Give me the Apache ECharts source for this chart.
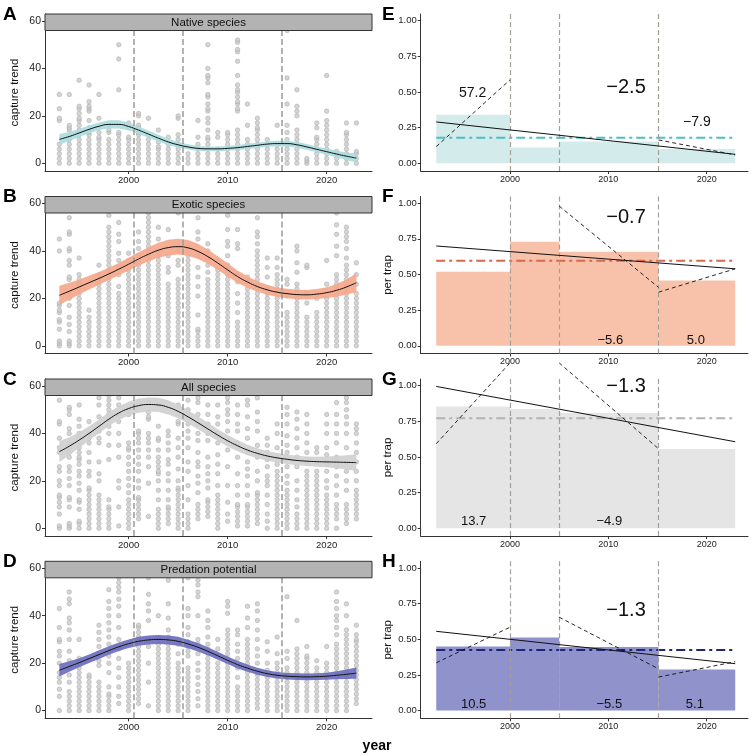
<!DOCTYPE html>
<html>
<head>
<meta charset="utf-8">
<script src="https://cdn.jsdelivr.net/npm/echarts@6/dist/echarts.min.js"></script>
<style>
html, body { margin: 0; padding: 0; background: #fff; }
#chart { width: 752px; height: 756px; }
</style>
</head>
<body>
<div id="chart"></div>
<script>
// sampling years (one column of points per year)
var years = [1993,1994,1995,1996,1997,1998,1999,2000,2001,2002,2003,2004,2005,2006,2007,2008,
	2009,2010,2011,2012,2013,2014,2015,2016,2017,2018,2019,2020,2021,2022,2023];

// capture values per year
var nativePts = [
	[0,2,4,6,8,18,19,23,29],
	[0,2,4,6,8,10,12,14,15,16,29],
	[0,2,4,6,8,10,12,14,16,18,19,21,23,24,35],
	[0,2,4,6,8,10,12,13,15,18,22,23,24,26,33],
	[0,2,4,6,8,10,11,13,19,29],
	[0,2,4,6,8,10,13,14,16],
	[0,2,4,6,8,10,12,13,31,44,50],
	[0,2,4,6,8,10,11,15,17],
	[0,2,4,6,8,10,12,13,15,16,20,21],
	[0,2,4,6,8,10,12,19],
	[0,2,4,6,7,9,14],
	[0,2,4,6,8,11],
	[0,2,4,6,8,10,12,19,20],
	[0,2,4],
	[0,2,4,6,8,11,18],
	[0,2,4,6,8,10,11,14,17,19,22,23,25,28,29,34,36,37,40,50],
	[0,2,4,6,11,13],
	[0,2,4,6,8,10,12,13],
	[0,2,4,6,8,10,12,14,22,23,25,26,28,30,31,33,37,43,47,48,51,52],
	[0,2,4,6,8,10,16,25],
	[0,2,4,6,8,10,12,14,15,17,19],
	[0,2,4,6,8,10],
	[0,2,4,6,8,16],
	[0,2,4,6,8,10,13,16,25,36,56],
	[0,2,4,6,8,10,12,14,20,22,24,31],
	[0,1,2],
	[0,2,4,6,8,10,11,15,17],
	[0,2,4,6,8,10,12,14,16,18,22,37],
	[0,2,4,5],
	[0,2,4,6,8,10,12,13,17],
	[0,2,4,5,17]
];
var exoticPts = [
	[0,1,2,7,10,11,14,15,17,18,40,45],
	[0,1,2,6,9,12,17,20,22,28,29,34,36,40,41,47,48,54],
	[0,2,4,6,8,10,12,14,16,18,20,22,24,26,28,30,37],
	[0,2,4,6,8,10,12,15],
	[0,2,4,6,8,10,12,14,16,18,20,22,24,26,28,30,34],
	[0,2,4,6,8,10,12,14,16,18,20,22,24,26,28,30,32,34,36,38,40,42,44,46,48,50,55],
	[0,2,4,6,8,10,12,14,16,18,20,22,25,30,33,36,39,44,47,52],
	[0,2,4,6,8,10,12,14,16,18,20,22,24,26,28,30,32,36,39],
	[0,2,4,6,8,10,12,14,16,18,20,22,24,26,28,30,32,34,36,38,41,44,48],
	[0,2,4,6,8,10,12,14,16,18,20,22,24,26,28,30,32,34,36,38,40,42,44,46,48,50,52,54,56],
	[0,2,4,6,8,10,12,14,16,18,20,22,24,26,28,30,32,34,36,38,40,45,50],
	[0,2,4,6,8,10,12,14,16,18,20,22,24,26,31,33,38,49],
	[0,2,4,6,8,10,12,14,16,18,20,22,24,26,28,34,36,40,42,56],
	[0,2,4,6,8,10,12,14,16,18,20,22,24,26,28,30,32,34,36,38,40,42],
	[0,2,4,6,7,13,21,25,29,33,38,45,48,54],
	[0,2,4,6,8,10,12,14,16,18,20,22,24,26,28,31,34,37,40,43],
	[0,2,4,6,8,10,12,14,16,18,20,22,24,26,28,30,32,36],
	[0,2,4,6,8,10,12,14,16,18,20,22,24,26,28,30,32,34,38,42,44,49,55],
	[0,2,4,6,8,10,14,18,22,27,30,41,43,49],
	[0,2,4,6,8,10,12,14,16,18,20,22,24,27,29],
	[0,2,4,6,8,10,12,14,16,18,20,22,24,26,28,30,32,34,36,38,40,43,46,48,54],
	[0,2,4,6,8,10,12,14,16,18,20,22,24,29,33,37],
	[0,2,4,6,8,10,12,14,16,18,20,22,24,26,28,30,33,37],
	[0,2,4,6,8,10,12,14,21,26,28],
	[0,2,4,6,8,10,12,14,16,18,20,22,24,26,31,35,40,42],
	[0,2,4,6,8,10,12,18,22,33,34],
	[0,2,4,6,8,10,12,14,20],
	[0,2,4,6,8,10,12,14,16,18,20,26,36],
	[0,2,4,6,8,10,12,14,16,18,20,22,24,26,28,30,38,42,47,51,56],
	[0,2,4,6,8,10,12,14,16,18,20,22,24,26,28,30,32,34,37,41,44,46,48,50],
	[0,2,4,6,8,10,12,14,16,18,20,22,26,30,35]
];
var allPts = [
	[0,1,6,9,11,13,14,18,20,24,26,32,34,38,44,45,54],
	[0,1,2,9,12,13,18,21,24,26,30,32,34,36,40,42,48,50,51],
	[0,2,3,8,11,12,16,19,22,24,27,29,30,32,34,36,38,40,43,46,52],
	[0,2,4,6,8,10,12,14,16,17,22,24,28,32,36,38,40,45],
	[0,2,4,6,8,10,12,14,20,23,28,36,38,41,44,47,52,55],
	[0,2,4,6,8,9,12,29,35,40,43,46,48,50,52,54,56],
	[1,9,17,20,30,35,40,45,48,52,55],
	[0,2,4,6,8,10,12,15,18,21,24,27,30,33,34,36,48,50],
	[4,6,8,10,12,13,17,20,24,27,30,33,36,38,40,41,53],
	[5,19,26,30,33,36,38,40,46,47,49,53],
	[0,2,4,6,8,12,16,20,23,24,26,28,30,33,37,38,43,52],
	[2,4,6,8,9,12,16,20,23,27,29,33,36,39,41],
	[0,2,4,6,8,10,12,14,16,17,20,25,30,34,38,44,45,48,52],
	[0,2,4,6,12,18,24,28,34,38,41,44,48,50,54],
	[4,6,8,10,15,19,22,26,28,32,37,40,44,48,53,55],
	[5,7,9,11,12,17,20,23,26,30,37,40,44,48,52],
	[0,2,4,6,8,10,12,14,18,23,27,31,36,40,44,47,52],
	[3,6,11,18,26,33,37,41,45,48,50,53,55],
	[1,3,5,7,9,10,14,18,23,30,36,41,44,48,52],
	[1,3,5,7,9,10,14,18,22,25,28,32,38,42,47,52,54],
	[2,4,6,8,10,12,14,15,20,24,30,35,41,45,49,55],
	[0,3,6,10,14,18,20,22,26,29,32,35,38],
	[0,2,4,6,8,10,12,14,16,18,20,22,24,27,30,34,40,44],
	[0,2,4,6,8,10,12,14,16,19,22,26,30,32,35,39,44,48,51],
	[0,2,4,6,9,12,16,20,26,30,34,38,42,46,49],
	[0,2,4,6,8,10,12,14,16,18,20,22,24,28,32,36,40,44,48],
	[0,2,4,6,8,10,12,14,16,18,20,22,24,28,32,34],
	[0,2,4,6,8,10,12,14,17,20,24,27,31,34,40,44,48],
	[0,4,6,8,10,14,18,22,26,30,36,40,44,48,53],
	[2,4,6,8,10,16,20,24,28,34,40,44,47,50,53,55],
	[4,6,8,10,12,14,16,20,24,28,32,36,40,42,44]
];
var predPts = [
	[0,6,9,12,14,16,20,23,25,29,30,35,43],
	[0,2,4,6,8,12,15,18,21,25,30,34,37,39,45,47,50],
	[0,2,4,6,8,10,12,14,16,18,20,22,30],
	[0,2,4,6,8,10,12,14,15],
	[0,2,4,6,8,10,12,19,21,24,27,30,33,36],
	[0,2,4,6,7,10,16,20,23,25,28,31,34,37,40,43,46,51],
	[3,6,10,14,18,22,26,30,35,40,44,47,50,52,54,56],
	[0,2,4,6,8,10,12,14,16,18,20],
	[3,5,7,9,11,13,15,17,19,21,23,25,27,29,31,33,35,36],
	[2,12,20,27,30,38,42,45,49,56],
	[0,2,4,6,8,10,12,14,16,18,20,22,24,26,28,30,40],
	[0,2,4,6,8,10,12,14,16,18,20,22,24,26,28,31,34,39,45,55],
	[0,2,4,6,8,10,12,14,16,18,20,24,28],
	[0,2,4,6,8,10,12,14,16,18,23,25,27,29,32,35,40,43,56],
	[2,5,8,11,14,17,20,24,28,30,40,48,50,53,55],
	[0,2,4,6,8,10,12,14,16,18,20,22,24,26,28,31,35,38,42],
	[0,2,4,6,8,10,12,14,16,18,20,23,26,30],
	[0,2,4,6,8,10,12,14,16,18,20,22,24,26,28,30,32,34,41,44,46],
	[0,2,4,6,8,10,14,18,22,25,28,32,34],
	[0,2,4,6,8,10,12,14,16,18,20,22,24,26,28,30,35,39,44],
	[1,3,5,7,9,11,13,15,16,20,23,26,30,34,38,42,45],
	[0,2,4,6,8,10,12,14,17,20,25,29],
	[0,2,4,6,8,10,12,14,16,18,20,24,31],
	[0,2,4,6,8,10,12,14,16,18,22,25,48],
	[0,2,4,6,8,10,12,14,16,18,20,22,24,26,38],
	[0,2,4,6,8,10,12,14,16,18,20,22,23,27],
	[0,2,4,6,8,10,12,14,16,18,21],
	[0,2,4,6,8,10,12,14,16,18,20,27],
	[0,2,4,6,8,10,12,14,16,18,20,22,24,26,28,32,35,38,40,43,46,50],
	[0,2,4,6,8,10,12,14,16,18,20,22,24,26,28,30,32,34,40,45],
	[3,5,7,9,11,13,15,17,19,21,23,25,27,29,30,32,36]
];

// smoothed trend and its confidence band, one value per year
var nativeFit  = [10.1,11.3,12.8,14.3,15.6,16.4,16.4,15.5,14.0,12.3,10.6,9.0,7.8,6.9,6.3,6.1,6.1,6.3,6.6,7.1,7.6,8.1,8.3,8.3,7.8,6.9,5.9,4.9,3.9,3.0,2.2];
var nativeLow  = [7.8,9.4,11.1,12.7,14.0,14.7,14.7,13.9,12.5,10.8,9.2,7.7,6.6,5.8,5.3,5.1,5.1,5.3,5.6,6.0,6.5,7.0,7.1,7.1,6.6,5.7,4.7,3.6,2.5,1.4,0.3];
var nativeHigh = [12.4,13.2,14.5,15.9,17.2,18.1,18.1,17.1,15.5,13.8,12.0,10.3,9.0,8.0,7.3,7.1,7.1,7.3,7.6,8.2,8.7,9.2,9.5,9.5,9.0,8.1,7.1,6.2,5.3,4.6,4.1];
var exoticFit  = [21.3,23.0,24.8,26.6,28.4,30.3,32.3,34.4,36.6,38.6,40.3,41.4,41.8,41.3,39.8,37.6,34.9,32.0,29.2,26.9,25.0,23.6,22.6,22.0,21.6,21.5,21.8,22.4,23.4,24.8,26.6];
var exoticLow  = [17.3,19.4,21.6,23.7,25.7,27.7,29.7,31.7,33.8,35.6,37.1,38.1,38.5,38.0,36.6,34.6,32.0,29.2,26.6,24.5,22.8,21.5,20.6,20.0,19.6,19.5,19.7,20.1,20.7,21.6,22.6];
var exoticHigh = [25.3,26.6,28.0,29.5,31.1,32.9,34.9,37.1,39.4,41.6,43.5,44.7,45.1,44.6,43.0,40.6,37.8,34.8,31.8,29.3,27.2,25.7,24.6,24.0,23.6,23.5,23.9,24.7,26.1,28.0,30.6];
var allFit  = [32.3,34.6,37.2,40.0,43.0,46.0,48.6,50.5,51.7,52.2,52.0,51.0,49.3,47.0,44.5,41.9,39.3,36.9,34.8,33.0,31.6,30.5,29.7,29.1,28.6,28.3,28.1,28.0,27.9,27.8,27.7];
var allLow  = [27.9,30.8,33.9,37.0,40.1,43.1,45.7,47.6,48.7,49.2,49.0,48.0,46.4,44.2,41.8,39.3,36.8,34.5,32.5,30.8,29.5,28.5,27.7,27.1,26.6,26.3,26.0,25.7,25.3,24.8,24.2];
var allHigh = [36.7,38.4,40.5,43.0,45.9,48.9,51.5,53.4,54.7,55.2,55.0,54.0,52.2,49.8,47.2,44.5,41.8,39.3,37.1,35.2,33.7,32.5,31.7,31.1,30.6,30.3,30.2,30.3,30.5,30.8,31.2];
var predFit  = [17.0,18.6,20.2,21.9,23.6,25.3,26.9,28.2,29.2,29.8,30.0,29.8,29.2,28.1,26.7,25.0,23.1,21.2,19.4,17.9,16.6,15.6,14.9,14.5,14.3,14.2,14.3,14.5,14.9,15.3,15.8];
var predLow  = [14.4,16.4,18.3,20.1,21.8,23.5,25.1,26.4,27.3,27.9,28.1,27.9,27.3,26.3,24.9,23.3,21.4,19.6,17.8,16.4,15.1,14.2,13.5,13.1,12.9,12.8,12.9,13.0,13.2,13.3,13.4];
var predHigh = [19.6,20.8,22.1,23.7,25.4,27.1,28.7,30.0,31.1,31.7,31.9,31.7,31.1,29.9,28.5,26.7,24.8,22.8,21.0,19.4,18.1,17.0,16.3,15.9,15.7,15.6,15.7,16.0,16.6,17.3,18.2];

// breakpoints
var cutYearsLeft = [2000.5, 2005.5, 2015.5];
var cutYearsRight = [2000, 2005, 2015.1];
var periodStart = [1992.5, 2000, 2005, 2015.1];
var periodEnd = [2000, 2005, 2015.1, 2022.9];
var regYears = [1992.5, 2022.9];

// per trap means per period, overall mean, overall regression ends
var nativeBars = [0.34, 0.11, 0.152, 0.10];
var exoticBars = [0.52, 0.73, 0.66, 0.458];
var allBars = [0.855, 0.836, 0.808, 0.556];
var predBars = [0.45, 0.512, 0.446, 0.289];
var nativeMean = 0.18, exoticMean = 0.596, allMean = 0.771, predMean = 0.425;
var nativeReg = [0.29, 0.063];
var exoticReg = [0.70, 0.54];
var allReg = [0.995, 0.607];
var predReg = [0.556, 0.329];

// period trend segments [x0, y0, x1, y1]
var nativeSeg = [[1992.5, 0.117, 2000, 0.585], [2015.1, 0.164, 2022.9, 0.059]];
var exoticSeg = [[2005, 0.98, 2015.1, 0.41], [2015.1, 0.376, 2022.9, 0.54]];
var allSeg = [[1992.5, 0.593, 2000, 1.16], [2005, 1.16, 2015.1, 0.558]];
var predSeg = [[1992.5, 0.335, 2000, 0.585], [2005, 0.655, 2015.1, 0.293], [2015.1, 0.235, 2022.9, 0.343]];

// % change labels [year, value, text]
var nativeTrend = [2011.8, 0.535, '\u22122.5'];
var exoticTrend = [2011.8, 0.9, '\u22120.7'];
var allTrend = [2011.8, 0.995, '\u22121.3'];
var predTrend = [2011.8, 0.70, '\u22121.3'];
var nativeLabels = [[1996.2, 0.49, '57.2'], [2019.0, 0.29, '\u22127.9']];
var exoticLabels = [[2010.2, 0.04, '\u22125.6'], [2018.9, 0.04, '5.0']];
var allLabels = [[1996.3, 0.045, '13.7'], [2010.1, 0.045, '\u22124.9']];
var predLabels = [[1996.3, 0.045, '10.5'], [2010.1, 0.045, '\u22125.5'], [2018.8, 0.045, '5.1']];

var FONT = '"Liberation Sans", Arial, sans-serif';
var chart = echarts.init(document.getElementById('chart'));

var rowTops = [14, 196.5, 379, 561.3];
var rowH = 157;

var leftPanels = [
	{letter: 'A', title: 'Native species', pts: nativePts, fit: nativeFit, low: nativeLow, high: nativeHigh, band: '#abdcde'},
	{letter: 'B', title: 'Exotic species', pts: exoticPts, fit: exoticFit, low: exoticLow, high: exoticHigh, band: '#f5a88c'},
	{letter: 'C', title: 'All species', pts: allPts, fit: allFit, low: allLow, high: allHigh, band: '#d0d0d0'},
	{letter: 'D', title: 'Predation potential', pts: predPts, fit: predFit, low: predLow, high: predHigh, band: '#6b6ebd'}
];
var rightPanels = [
	{letter: 'E', bars: nativeBars, mean: nativeMean, reg: nativeReg, seg: nativeSeg, trend: nativeTrend, labels: nativeLabels, small: 14, fill: '#d4ebeb', line: '#4cc0c0', yName: ''},
	{letter: 'F', bars: exoticBars, mean: exoticMean, reg: exoticReg, seg: exoticSeg, trend: exoticTrend, labels: exoticLabels, small: 13, fill: '#f8c2aa', line: '#d8674b', yName: 'per trap'},
	{letter: 'G', bars: allBars, mean: allMean, reg: allReg, seg: allSeg, trend: allTrend, labels: allLabels, small: 13, fill: '#e5e5e5', line: '#b3b3b3', yName: 'per trap'},
	{letter: 'H', bars: predBars, mean: predMean, reg: predReg, seg: predSeg, trend: predTrend, labels: predLabels, small: 13, fill: '#8f92cb', line: '#1f2677', yName: 'per trap'}
];

var grids = [], xAxes = [], yAxes = [], series = [], graphics = [];

function axisBase() {
	return {
		axisLine: {show: true, onZero: false, lineStyle: {color: '#333', width: 1}},
		splitLine: {show: false}
	};
}
function yearLabel(v) { return String(v); }

leftPanels.forEach(function(p, i) {
	var top = rowTops[i];
	grids.push({left: 45, top: top, width: 327, height: rowH});
	var xa = axisBase();
	xa.type = 'value'; xa.gridIndex = i; xa.min = 1991.55; xa.max = 2024.58;
	xa.axisTick = {show: true, length: 3, customValues: [2000, 2010, 2020], lineStyle: {color: '#333'}};
	xa.axisLabel = {customValues: [2000, 2010, 2020], fontSize: 9.5, color: '#222', fontFamily: FONT, margin: 4, formatter: yearLabel};
	xAxes.push(xa);
	var ya = axisBase();
	ya.type = 'value'; ya.gridIndex = i; ya.min = -3.25; ya.max = 62.95;
	ya.axisTick = {show: true, length: 3, customValues: [0, 20, 40, 60], lineStyle: {color: '#333'}};
	ya.axisLabel = {customValues: [0, 20, 40, 60], fontSize: 10.5, color: '#222', fontFamily: FONT, margin: 4};
	ya.name = 'capture trend'; ya.nameLocation = 'middle'; ya.nameGap = 24;
	ya.nameTextStyle = {fontSize: 11.5, color: '#111', fontFamily: FONT};
	yAxes.push(ya);

	var pts = [];
	years.forEach(function(y, k) {
		p.pts[k].forEach(function(v) { pts.push([y, v]); });
	});
	series.push({
		type: 'scatter', xAxisIndex: i, yAxisIndex: i, data: pts, symbolSize: 4.5, silent: true, z: 2,
		itemStyle: {color: '#cbcbcb', borderColor: '#a3a3a3', borderWidth: 0.6}
	});
	// confidence band as one polygon through the library's coordinates
	var bandData = years.map(function(y, k) { return [y, p.low[k], p.high[k]]; });
	series.push({
		type: 'custom', xAxisIndex: i, yAxisIndex: i, silent: true, z: 3,
		data: bandData, encode: {x: 0, y: [1, 2]},
		renderItem: function(params, api) {
			if (params.dataIndex !== 0) return null;
			var upper = bandData.map(function(d) { return api.coord([d[0], d[2]]); });
			var lower = bandData.map(function(d) { return api.coord([d[0], d[1]]); }).reverse();
			return {type: 'polygon', shape: {points: upper.concat(lower)},
				style: {fill: p.band, opacity: 0.92}};
		}
	});
	series.push({
		type: 'line', xAxisIndex: i, yAxisIndex: i, symbol: 'none', smooth: true, z: 5,
		lineStyle: {color: '#111', width: 1},
		data: years.map(function(y, k) { return [y, p.fit[k]]; }),
		markLine: {
			silent: true, symbol: ['none', 'none'], label: {show: false},
			lineStyle: {type: [6, 3], color: '#9c9a96', width: 1.5},
			data: cutYearsLeft.map(function(v) { return {xAxis: v}; })
		}
	});

	// facet strip
	graphics.push({type: 'rect', z: 100, shape: {x: 45, y: top, width: 327, height: 16.5},
		style: {fill: '#b3b3b3', stroke: '#333', lineWidth: 1}});
	graphics.push({type: 'text', z: 101, x: 208.5, y: top + 8.5,
		style: {text: p.title, font: '11.5px ' + FONT, fill: '#111', align: 'center', verticalAlign: 'middle'}});
	graphics.push({type: 'text', z: 101, x: 3, y: top - 9,
		style: {text: p.letter, font: 'bold 19px ' + FONT, fill: '#000', align: 'left', verticalAlign: 'top'}});
});

rightPanels.forEach(function(p, i) {
	var idx = i + 4;
	var top = rowTops[i];
	grids.push({left: 420.7, top: top, width: 327.3, height: rowH});
	var xa = axisBase();
	xa.type = 'value'; xa.gridIndex = idx; xa.min = 1990.92; xa.max = 2024.2;
	xa.axisTick = {show: true, length: 3, customValues: [2000, 2010, 2020], lineStyle: {color: '#333'}};
	xa.axisLabel = {customValues: [2000, 2010, 2020], fontSize: 9, color: '#222', fontFamily: FONT, margin: 4, formatter: yearLabel};
	xAxes.push(xa);
	var ya = axisBase();
	ya.type = 'value'; ya.gridIndex = idx; ya.min = -0.054; ya.max = 1.047;
	ya.axisTick = {show: true, length: 3, customValues: [0, 0.25, 0.5, 0.75, 1], lineStyle: {color: '#333'}};
	ya.axisLabel = {customValues: [0, 0.25, 0.5, 0.75, 1], fontSize: 9.5, color: '#222', fontFamily: FONT, margin: 4,
		formatter: function(v) { return v.toFixed(2); }};
	ya.name = p.yName; ya.nameLocation = 'middle'; ya.nameGap = 25;
	ya.nameTextStyle = {fontSize: 11.5, color: '#111', fontFamily: FONT};
	yAxes.push(ya);

	series.push({
		type: 'custom', xAxisIndex: idx, yAxisIndex: idx, silent: true, z: 1,
		data: p.bars.map(function(v, k) { return [periodStart[k], periodEnd[k], v]; }),
		encode: {x: [0, 1], y: 2},
		renderItem: function(params, api) {
			var a = api.coord([api.value(0), 0]);
			var b = api.coord([api.value(1), api.value(2)]);
			return {type: 'rect', shape: {x: a[0], y: b[1], width: b[0] - a[0], height: a[1] - b[1]},
				style: {fill: p.fill}};
		}
	});
	series.push({
		type: 'line', xAxisIndex: idx, yAxisIndex: idx, symbol: 'none', z: 3, silent: true,
		lineStyle: {color: p.line, width: 2, type: [9, 4, 3, 4]},
		data: [[periodStart[0], p.mean], [periodEnd[3], p.mean]],
		markLine: {
			silent: true, symbol: ['none', 'none'], label: {show: false},
			lineStyle: {type: [5, 3], color: '#a3a09a', width: 1.2},
			data: cutYearsRight.map(function(v) { return {xAxis: v}; })
		}
	});
	series.push({
		type: 'line', xAxisIndex: idx, yAxisIndex: idx, symbol: 'none', z: 5, silent: true,
		lineStyle: {color: '#111', width: 1},
		data: [[regYears[0], p.reg[0]], [regYears[1], p.reg[1]]]
	});
	p.seg.forEach(function(s) {
		series.push({
			type: 'line', xAxisIndex: idx, yAxisIndex: idx, symbol: 'none', z: 5, silent: true, clip: false,
			lineStyle: {color: '#111', width: 0.9, type: [4, 3]},
			data: [[s[0], s[1]], [s[2], s[3]]]
		});
	});
	var labs = [p.trend].concat(p.labels);
	series.push({
		type: 'custom', xAxisIndex: idx, yAxisIndex: idx, silent: true, z: 6,
		data: labs.map(function(l) { return [l[0], l[1]]; }),
		encode: {x: 0, y: 1},
		renderItem: function(params, api) {
			var c = api.coord([api.value(0), api.value(1)]);
			var big = params.dataIndex === 0;
			return {type: 'text', x: c[0], y: c[1],
				style: {text: labs[params.dataIndex][2], font: (big ? 20 : p.small) + 'px ' + FONT,
					fill: '#111', align: 'center', verticalAlign: 'middle'}};
		}
	});

	graphics.push({type: 'text', z: 101, x: 382, y: top - 9,
		style: {text: p.letter, font: 'bold 19px ' + FONT, fill: '#000', align: 'left', verticalAlign: 'top'}});
});

graphics.push({type: 'text', z: 101, x: 377, y: 746,
	style: {text: 'year', font: 'bold 14px ' + FONT, fill: '#000', align: 'center', verticalAlign: 'middle'}});

chart.setOption({
	animation: false,
	backgroundColor: '#fff',
	grid: grids,
	xAxis: xAxes,
	yAxis: yAxes,
	series: series,
	graphic: {elements: graphics}
});
</script>
</body>
</html>
